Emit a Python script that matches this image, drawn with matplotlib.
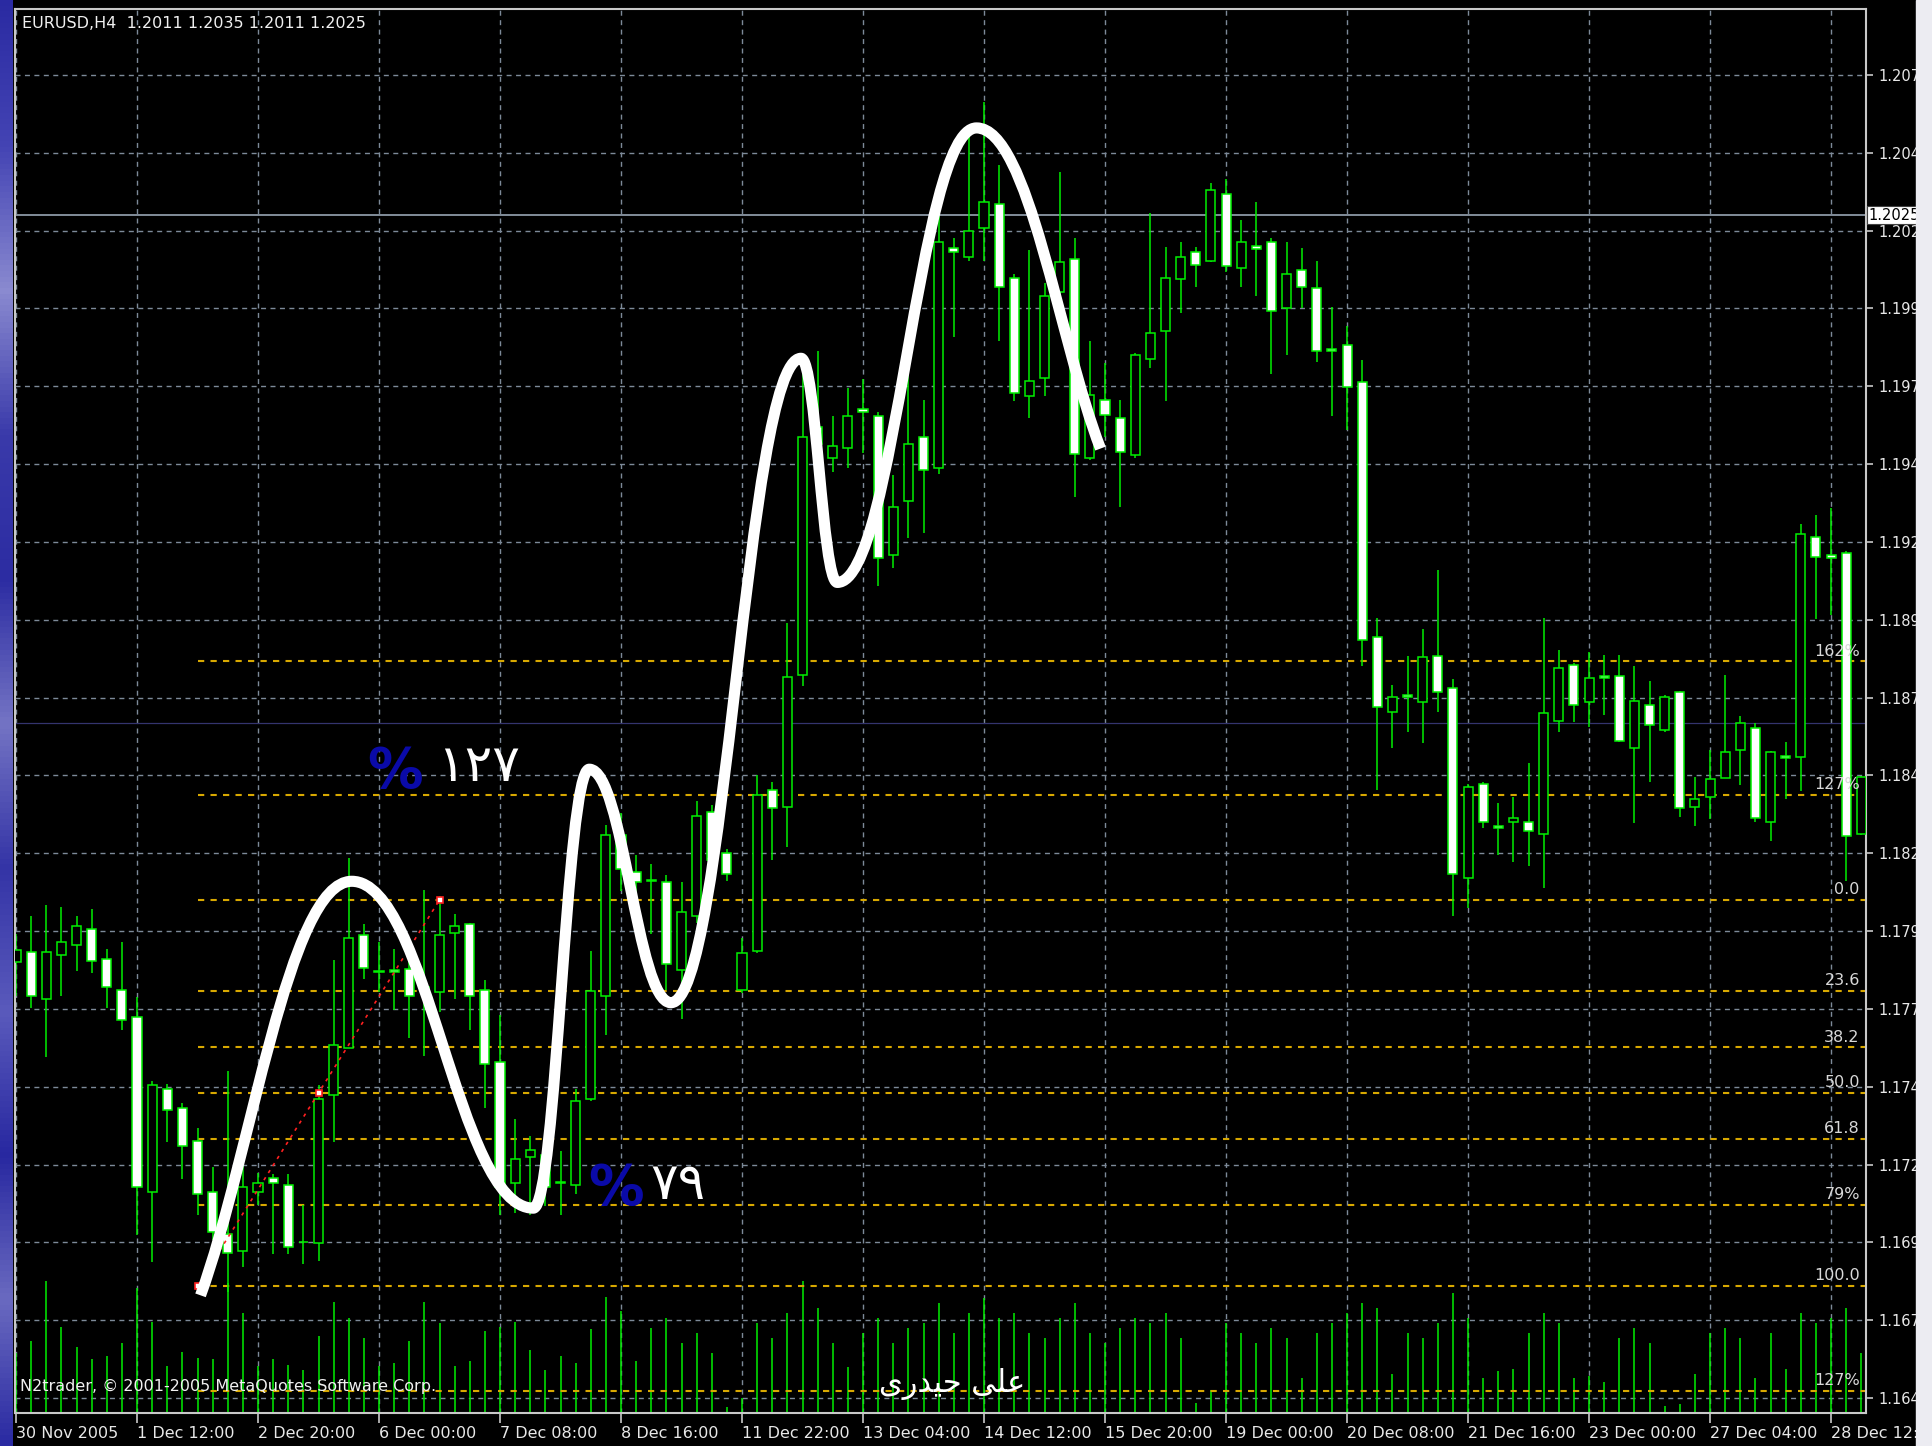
import numpy as np
import matplotlib
matplotlib.use("Agg")
import matplotlib.pyplot as plt
from matplotlib.path import Path
from matplotlib.patches import PathPatch, Rectangle
from matplotlib.colors import LinearSegmentedColormap

# EURUSD H4 candles, 30 Nov - 28 Dec 2005
opens = [1.17850, 1.17883, 1.17731, 1.17874, 1.17906, 1.17957, 1.17860, 1.17762, 1.17673, 1.17111,
         1.17442, 1.17381, 1.17275, 1.17111, 1.16977, 1.16922, 1.17111, 1.17157, 1.17134, 1.16952,
         1.16947, 1.17425, 1.17576, 1.17937, 1.17821, 1.17825, 1.17828, 1.17771, 1.17754, 1.17943,
         1.17974, 1.17760, 1.17530, 1.17140, 1.17223, 1.17232, 1.17145, 1.17134, 1.17410, 1.17742,
         1.18260, 1.18140, 1.18115, 1.18107, 1.17826, 1.18000, 1.18332, 1.18202, 1.17762, 1.17886,
         1.18404, 1.18349, 1.18772, 1.19569, 1.19469, 1.19502, 1.19628, 1.19604, 1.19157, 1.19331,
         1.19538, 1.19438, 1.20144, 1.20115, 1.20210, 1.20286, 1.20049, 1.19668, 1.19728, 1.20004,
         1.20108, 1.19469, 1.19656, 1.19597, 1.19478, 1.19787, 1.19877, 1.20044, 1.20132, 1.20103,
         1.20317, 1.20080, 1.20151, 1.20163, 1.19952, 1.20072, 1.20015, 1.19821, 1.19833, 1.19713,
         1.18896, 1.18653, 1.18708, 1.18685, 1.18834, 1.18730, 1.18121, 1.18422, 1.18289, 1.18299,
         1.18299, 1.18262, 1.18625, 1.18805, 1.18685, 1.18768, 1.18768, 1.18538, 1.18677, 1.18597,
         1.18717, 1.18350, 1.18382, 1.18442, 1.18533, 1.18601, 1.18299, 1.18513, 1.18510, 1.19217,
         1.19157, 1.19165, 1.18262]
highs = [1.17940, 1.18000, 1.18035, 1.18029, 1.18000, 1.18021, 1.17891, 1.17914, 1.17737, 1.17467,
         1.17459, 1.17398, 1.17318, 1.17192, 1.17501, 1.17272, 1.17174, 1.17169, 1.17169, 1.17071,
         1.17455, 1.17857, 1.18186, 1.17972, 1.17914, 1.17891, 1.17874, 1.18081, 1.18063, 1.18006,
         1.17977, 1.17794, 1.17679, 1.17347, 1.17291, 1.17264, 1.17243, 1.17444, 1.17886, 1.18290,
         1.18330, 1.18195, 1.18166, 1.18130, 1.18107, 1.18368, 1.18356, 1.18214, 1.17928, 1.18451,
         1.18428, 1.18939, 1.19782, 1.19813, 1.19604, 1.19694, 1.19723, 1.19616, 1.19414, 1.19830,
         1.19656, 1.20246, 1.20175, 1.20507, 1.20614, 1.20412, 1.20060, 1.20139, 1.20032, 1.20389,
         1.20175, 1.19847, 1.19775, 1.19656, 1.19806, 1.20258, 1.20146, 1.20163, 1.20146, 1.20353,
         1.20365, 1.20234, 1.20293, 1.20175, 1.20163, 1.20143, 1.20104, 1.19956, 1.19895, 1.19783,
         1.18957, 1.18741, 1.18834, 1.18920, 1.19109, 1.18760, 1.18422, 1.18430, 1.18361, 1.18382,
         1.18489, 1.18957, 1.18853, 1.18810, 1.18845, 1.18837, 1.18837, 1.18800, 1.18752, 1.18709,
         1.18720, 1.18446, 1.18533, 1.18773, 1.18642, 1.18617, 1.18530, 1.18557, 1.19257, 1.19288,
         1.19308, 1.19170, 1.18447]
lows = [1.17740, 1.17702, 1.17547, 1.17742, 1.17823, 1.17814, 1.17702, 1.17633, 1.16974, 1.16888,
        1.17272, 1.17154, 1.17037, 1.16957, 1.16790, 1.16871, 1.17071, 1.16913, 1.16913, 1.16882,
        1.16890, 1.17272, 1.17576, 1.17796, 1.17754, 1.17696, 1.17605, 1.17550, 1.17691, 1.17731,
        1.17633, 1.17381, 1.17037, 1.17043, 1.17037, 1.17066, 1.17037, 1.17106, 1.17404, 1.17616,
        1.18080, 1.18050, 1.17940, 1.17762, 1.17667, 1.17976, 1.18154, 1.18111, 1.17750, 1.17881,
        1.18178, 1.18221, 1.18737, 1.19462, 1.19426, 1.19438, 1.19485, 1.19057, 1.19117, 1.19212,
        1.19229, 1.19419, 1.19859, 1.20103, 1.20103, 1.19847, 1.19652, 1.19597, 1.19668, 1.19984,
        1.19343, 1.19462, 1.19538, 1.19312, 1.19469, 1.19759, 1.19652, 1.19937, 1.20020, 1.20099,
        1.20068, 1.20020, 1.19989, 1.19740, 1.19801, 1.19951, 1.19777, 1.19604, 1.19559, 1.18802,
        1.18402, 1.18537, 1.18589, 1.18553, 1.18653, 1.17998, 1.18025, 1.18281, 1.18193, 1.18171,
        1.18158, 1.18089, 1.18589, 1.18621, 1.18605, 1.18645, 1.18557, 1.18297, 1.18430, 1.18589,
        1.18318, 1.18289, 1.18310, 1.18442, 1.18418, 1.18302, 1.18238, 1.18374, 1.18401, 1.18954,
        1.18965, 1.18110, 1.18258]
closes = [1.17890, 1.17742, 1.17883, 1.17914, 1.17966, 1.17853, 1.17771, 1.17665, 1.17129, 1.17455,
          1.17375, 1.17260, 1.17106, 1.16985, 1.16916, 1.17129, 1.17142, 1.17140, 1.16934, 1.16950,
          1.17410, 1.17584, 1.17928, 1.17831, 1.17817, 1.17820, 1.17742, 1.17762, 1.17937, 1.17966,
          1.17742, 1.17524, 1.17129, 1.17218, 1.17246, 1.17129, 1.17140, 1.17404, 1.17757, 1.18258,
          1.18150, 1.18109, 1.18111, 1.17845, 1.18012, 1.18321, 1.18178, 1.18135, 1.17881, 1.18387,
          1.18344, 1.18765, 1.19538, 1.19514, 1.19509, 1.19604, 1.19618, 1.19148, 1.19312, 1.19514,
          1.19431, 1.20163, 1.20132, 1.20198, 1.20293, 1.20020, 1.19680, 1.19716, 1.19989, 1.20099,
          1.19481, 1.19671, 1.19609, 1.19490, 1.19801, 1.19870, 1.20049, 1.20115, 1.20091, 1.20329,
          1.20087, 1.20163, 1.20141, 1.19942, 1.20060, 1.20020, 1.19812, 1.19815, 1.19697, 1.18885,
          1.18669, 1.18701, 1.18701, 1.18829, 1.18717, 1.18134, 1.18414, 1.18299, 1.18282, 1.18314,
          1.18270, 1.18650, 1.18794, 1.18677, 1.18762, 1.18762, 1.18562, 1.18688, 1.18613, 1.18701,
          1.18345, 1.18374, 1.18438, 1.18525, 1.18618, 1.18314, 1.18525, 1.18506, 1.19225, 1.19153,
          1.19150, 1.18254, 1.18445]
volumes = [600, 720, 1320, 860, 660, 540, 570, 700, 1250, 910,
           470, 610, 550, 540, 1300, 1000, 470, 540, 480, 430,
           770, 1110, 950, 750, 470, 500, 720, 1110, 900, 470,
           520, 820, 860, 910, 630, 430, 570, 500, 840, 1160,
           1020, 520, 850, 950, 700, 800, 600, 60, 150, 900,
           750, 1000, 1320, 1050, 700, 460, 800, 950, 700, 850,
           900, 1100, 800, 1000, 1150, 950, 1000, 800, 750, 950,
           1100, 800, 700, 850, 950, 900, 1000, 750, 100, 230,
           900, 800, 700, 850, 750, 350, 800, 900, 1000, 1100,
           1050, 390, 800, 750, 900, 1200, 950, 350, 420, 440,
           800, 1000, 900, 350, 370, 310, 750, 850, 700, 70,
           90, 390, 800, 850, 750, 350, 800, 440, 1000, 900,
           950, 1050, 600]

date_ticks = list(range(0, 121, 8))
date_labels = ["30 Nov 2005", "1 Dec 12:00", "2 Dec 20:00", "6 Dec 00:00", "7 Dec 08:00",
               "8 Dec 16:00", "11 Dec 22:00", "13 Dec 04:00", "14 Dec 12:00", "15 Dec 20:00",
               "19 Dec 00:00", "20 Dec 08:00", "21 Dec 16:00", "23 Dec 00:00", "27 Dec 04:00",
               "28 Dec 12:00"]
price_ticks = [1.1645, 1.1670, 1.1695, 1.1720, 1.1745, 1.1770, 1.1795, 1.1820, 1.1845,
               1.1870, 1.1895, 1.1920, 1.1945, 1.1970, 1.1995, 1.2020, 1.2045, 1.2070]
last_price = 1.2025
level_line = 1.18618

# fibonacci retracement drawn from the swing low (bar 12) to the swing high (bar 28)
fib_start, fib_end = 12, 28
fib_low, fib_high = 1.1681, 1.1805
fib_ratios = [-0.618, -0.272, 0.0, 0.236, 0.382, 0.5, 0.618, 0.79, 1.0, 1.272]
fib_labels = ["162%", "127%", "0.0", "23.6", "38.2", "50.0", "61.8", "79%", "100.0", "127%"]

# hand-drawn wave over the price action (bar index, price)
wave_x = [12.2, 22.2, 34.2, 37.9, 43.3, 51.9, 54.3, 63.5, 71.7]
wave_y = [1.1678, 1.1811, 1.1706, 1.1847, 1.1772, 1.1979, 1.1907, 1.2053, 1.1950]

W, H = 1932, 1446
GREEN = "#00f000"
GRID = "#7d8a99"
FRAME = "#c8c8c8"
FIB = "#d8a800"

fig = plt.figure(figsize=(W / 100, H / 100), dpi=100, facecolor="black")


def fpos(x, y):
    return x / W, 1 - y / H


ax = fig.add_axes([15 / W, 33 / H, 1851 / W, 1404 / H], facecolor="black")
ax.set_xlim(-0.066, 122.31)
ax.set_ylim(1.16402, 1.20912)

x = np.arange(len(opens))
o = np.array(opens)
c = np.array(closes)
hi = np.array(highs)
lo = np.array(lows)

# volumes along the bottom of the price window
ax.vlines(x, 0, np.array(volumes) / 14040, transform=ax.get_xaxis_transform(),
          color=GREEN, lw=1.1, zorder=1.5)

ax.vlines(x, lo, hi, color=GREEN, lw=1.1, zorder=2)
up = c >= o
body_bottom = np.minimum(o, c)
body_height = np.maximum(np.abs(c - o), 0.00002)
ax.bar(x, body_height, bottom=body_bottom, width=0.6,
       color=np.where(up, "black", "white"), edgecolor=GREEN, linewidth=1.1, zorder=3)

# grid, frame, axes
ax.set_xticks(date_ticks)
ax.set_xticklabels(date_labels)
ax.yaxis.tick_right()
ax.set_yticks(price_ticks)
ax.set_yticklabels([f"{t:.4f}" for t in price_ticks])
ax.grid(True, color=GRID, linestyle=(0, (3.6, 3.2)), linewidth=1.0, zorder=0.5)
ax.set_axisbelow(True)
for s in ax.spines.values():
    s.set_color(FRAME)
    s.set_linewidth(1.5)
ax.tick_params(axis="both", colors=FRAME, labelcolor="#e8e8e8", labelsize=11.5,
               direction="out", width=1.2)
ax.tick_params(axis="y", length=5, pad=4, labelsize=10.5)
ax.tick_params(axis="x", length=7, pad=2)
for lbl in ax.get_xticklabels():
    lbl.set_horizontalalignment("left")

# current price and horizontal level
ax.axhline(last_price, color="#8c98a6", lw=1.3, zorder=1.6)
ax.axhline(level_line, color="#34346e", lw=0.9, zorder=1.6)
ax.annotate(f"{last_price:.4f}", xy=(1.0, last_price), xycoords=ax.get_yaxis_transform(),
            xytext=(2, 0), textcoords="offset points", ha="left", va="center",
            fontsize=10.5, color="black", zorder=6, annotation_clip=False,
            bbox=dict(boxstyle="square,pad=0.12", fc="white", ec="#404040", lw=0.8))

# fibonacci levels
span = fib_high - fib_low
for r, lab in zip(fib_ratios, fib_labels):
    lvl = fib_high - r * span
    ax.hlines(lvl, fib_start, 122.3, colors=FIB, linestyles=(0, (3, 3)), lw=1.5, zorder=1.8)
    ax.annotate(lab, xy=(121.9, lvl), xytext=(0, 2), textcoords="offset points",
                ha="right", va="bottom", fontsize=11.5, color="#d8d8d8", zorder=4)
ax.plot([fib_start, fib_end], [fib_low, fib_high], color="#ff2020", lw=1.2,
        linestyle=(0, (2, 3)), zorder=4)
ax.plot([fib_start, (fib_start + fib_end) / 2, fib_end],
        [fib_low, (fib_low + fib_high) / 2, fib_high], "s", ms=4.5,
        mfc="white", mec="#ff2020", mew=1.2, zorder=4)


def wave_path(xs, ys, k=0.42):
    verts = [(xs[0], ys[0])]
    codes = [Path.MOVETO]
    n = len(xs)
    for i in range(n - 1):
        x0, y0, x1, y1 = xs[i], ys[i], xs[i + 1], ys[i + 1]
        dx = x1 - x0
        if i == 0:
            c1 = (x0 + (x1 - x0) / 3, y0 + (y1 - y0) / 3)
        else:
            c1 = (x0 + k * dx, y0)
        if i + 1 == n - 1:
            c2 = (x1 - (x1 - x0) / 3, y1 - (y1 - y0) / 3)
        else:
            c2 = (x1 - k * dx, y1)
        verts += [c1, c2, (x1, y1)]
        codes += [Path.CURVE4] * 3
    return Path(verts, codes)


ax.add_patch(PathPatch(wave_path(wave_x, wave_y), fc="none", ec="white", lw=8,
                       capstyle="butt", joinstyle="round", zorder=5))

# percentage notes in Persian digits
ax.text(25.06, 1.18461, "%", color="#0a0aa8", fontsize=40, fontweight="bold",
        ha="center", va="center", zorder=6)
ax.text(30.6, 1.18477, "\u06f1\u06f2\u06f7", color="white", fontsize=37,
        ha="center", va="center", zorder=6)
ax.text(39.67, 1.17121, "%", color="#0a0aa8", fontsize=40, fontweight="bold",
        ha="center", va="center", zorder=6)
ax.text(43.77, 1.17134, "\u06f7\u06f9", color="white", fontsize=37,
        ha="center", va="center", zorder=6)

# header and footer texts
fig.text(*fpos(22, 16), "EURUSD,H4  1.2011 1.2035 1.2011 1.2025", color="#f0f0f0",
         fontsize=11.5, ha="left", va="top")
fig.text(*fpos(20, 1386), "N2trader, \u00a9 2001-2005 MetaQuotes Software Corp.",
         color="#f0f0f0", fontsize=11.5, ha="left", va="center")
# name written with arabic presentation forms, visual order
fig.text(*fpos(952, 1384), "\ufeef\ufead\ufeaa\ufef4\ufea3 \ufef0\ufee0\ufecb",
         color="white", fontsize=22, ha="center", va="center",
         family=["DejaVu Sans", "Noto Sans"])

# window decoration: blue strip on the left, light border on the right
strip = fig.add_axes([0, 0, 13 / W, 1])
strip.axis("off")
strip_cmap = LinearSegmentedColormap.from_list(
    "strip", ["#2a2aa2", "#4444b4", "#8a8ad0", "#3a3aaa", "#2c2ca2", "#7474c4",
              "#3434a6", "#5a5abc", "#2828a0", "#6a6ac0", "#2a2aa2"])
strip.imshow(np.linspace(0, 1, 256).reshape(-1, 1), aspect="auto", cmap=strip_cmap,
             extent=[0, 1, 0, 1], origin="upper")
fig.patches.append(Rectangle((1916 / W, 0), 16 / W, 1, transform=fig.transFigure,
                             color="#ececf2", zorder=100))

fig.savefig("out.png", dpi=100, facecolor="black")
